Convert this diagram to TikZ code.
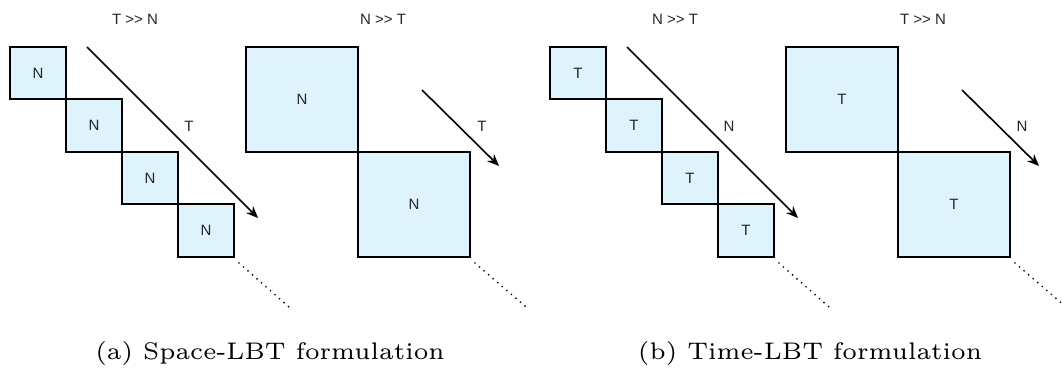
\documentclass[tikz,border=0pt]{standalone}
\usepackage{fontspec}
\newfontfamily\lblfont{Liberation Sans}
\usetikzlibrary{arrows.meta}
\definecolor{cellfill}{RGB}{222,243,252}
\begin{document}
\begin{tikzpicture}[x=1pt,y=-1pt,
  cell/.style={draw=black, line width=2pt, fill=cellfill, inner sep=0pt,
    font=\lblfont\fontsize{15}{17}\selectfont, text=black!85},
  smallcell/.style={cell, minimum width=56pt},
  bigcell/.style={cell, minimum width=112pt, minimum height=105pt},
  lbl/.style={inner sep=0pt, font=\lblfont\fontsize{15}{17}\selectfont, text=black!85},
  flow/.style={line width=1.6pt, -{Stealth[length=12pt,width=10pt,inset=4pt]}},
  trail/.style={line width=1.9pt, line cap=round, dash pattern=on 0pt off 6pt},
  caption/.style={inner sep=0pt, scale=4.0, font=\fontsize{6}{7}\selectfont}
]
\useasboundingbox (0,0) rectangle (1062,372);

% two panels: prefix / x offset / block label / arrow label / titles / caption
\foreach \p/\dx/\blk/\dir/\tl/\tr/\cap in
  {a/0/N/T/{T >> N}/{N >> T}/{(a) Space-LBT formulation},
   b/540/T/N/{N >> T}/{T >> N}/{(b) Time-LBT formulation}}{
  \begin{scope}[xshift=\dx pt]
    % staircase of small diagonal blocks (top and bottom edges)
    \foreach \k/\ya/\yb in {1/47/99, 2/99/152, 3/152/204, 4/204/257}{
      \node[smallcell, minimum height={(\yb-\ya)*1pt}] (\p-s\k)
        at ({38+56*(\k-1)},{(\ya+\yb)/2}) {\blk};
    }
    % two large diagonal blocks
    \node[bigcell] (\p-b1) at (302,99.5) {\blk};
    \node[bigcell] (\p-b2) at (414,204.5) {\blk};

    % titles
    \node[lbl] (\p-tl) at (135,19) {\tl};
    \node[lbl] (\p-tr) at (383,19) {\tr};

    % direction arrows
    \coordinate (\p-la0) at (87,47);
    \coordinate (\p-la1) at (258,218);
    \draw[flow] (\p-la0) -- (\p-la1);
    \node[lbl] (\p-lt) at (189,126) {\dir};

    \coordinate (\p-ra0) at (422,90);
    \coordinate (\p-ra1) at (499,166);
    \draw[flow] (\p-ra0) -- (\p-ra1);
    \node[lbl] (\p-rt) at (482,126) {\dir};

    % continuation dots
    \coordinate (\p-ld) at (289,307);
    \coordinate (\p-rd) at (526,307);
    \draw[trail] ([shift={(4pt,-5pt)}]\p-s4.south east) -- (\p-ld);
    \draw[trail] ([shift={(4pt,-5pt)}]\p-b2.south east) -- (\p-rd);

    % caption
    \node[caption] (\p-cap) at (270,353) {\cap};
  \end{scope}
}
\end{tikzpicture}
\end{document}
